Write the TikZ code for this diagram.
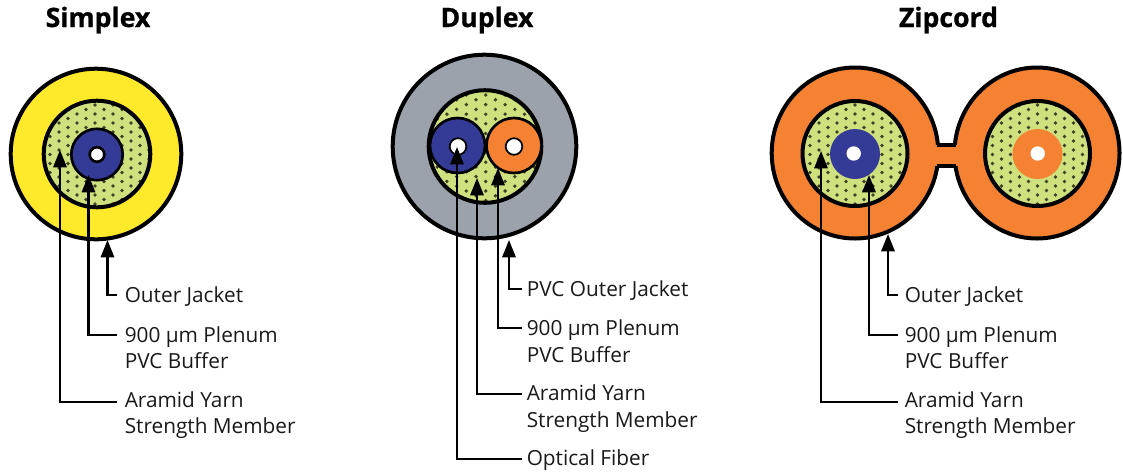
\documentclass[tikz,border=0pt]{standalone}
\usepackage{fontspec}
\setmainfont{Open Sans}
\newfontfamily\ttlfont[FakeBold=0.8]{Open Sans Bold}
\usetikzlibrary{arrows.meta}
\definecolor{cyellow}{HTML}{FFE92B}
\definecolor{cgreen}{HTML}{CFE07E}
\definecolor{cblue}{HTML}{343B97}
\definecolor{corange}{HTML}{F58232}
\definecolor{cgrey}{HTML}{9BA2AB}
\tikzset{
  heavy/.style={draw=black,line width=3pt},
  medium/.style={draw=black,line width=2pt},
  leader/.style={draw=black,line width=1.6pt,line join=miter,{Triangle[width=10pt,length=13pt]}-},
  lab/.style={anchor=west,align=left,inner sep=0pt,font=\fontsize{15.6}{19.8}\selectfont,text=black!90},
  ttl/.style={anchor=base,inner sep=0pt,font=\fontsize{20}{24}\selectfont\ttlfont},
}
\newcommand{\yarnfill}[7]{%
  \begin{scope}
    \fill[cgreen] (#1,#2) circle[radius=#3];
    \clip (#1,#2) circle[radius=#3];
    \foreach \r in {-16,...,16}{
      \pgfmathsetmacro{\sh}{mod(abs(\r),2)*#6/2}
      \foreach \c in {-5,...,5}{
        \fill[cgreen!30!black] ({#4+\c*#6+\sh},{#5+(\r)*#7}) circle[radius=1.9];
      }
    }
  \end{scope}
  \draw[heavy] (#1,#2) circle[radius=#3];
}
\begin{document}
\begin{tikzpicture}[x=0.75pt,y=-0.75pt]
\useasboundingbox (0,0) rectangle (1123,472);
% titles
\node[ttl] (t1) at (98,27) {Simplex};
\node[ttl] (t2) at (487,27) {Duplex};
\node[ttl] (t3) at (948.5,27) {Zipcord};
% Simplex
\draw[heavy,fill=cyellow] (96,154) circle[radius=85.3];
\yarnfill{97}{154}{53.3}{95}{150}{18}{4.5}
\draw[medium,fill=cblue] (97,154.5) circle[radius=25.7];
\draw[medium,fill=white] (97,154.5) circle[radius=7.3];
% Duplex
\draw[heavy,fill=cgrey] (484.5,146.5) circle[radius=91.8];
\yarnfill{485}{146.5}{56.3}{485.7}{143}{19.4}{4.8}
\draw[medium,fill=cblue] (457.5,145.5) circle[radius=27.5];
\draw[medium,fill=corange] (514,145.5) circle[radius=27.5];
\draw[line width=1.3pt,fill=white] (458,146.5) circle[radius=8.3];
\draw[line width=1.3pt,fill=white] (514,146.5) circle[radius=8.3];
% Zipcord
\draw[heavy,fill=corange] (855,153) ellipse[x radius=83.3,y radius=85.5];
\draw[heavy,fill=corange] (1037,153) ellipse[x radius=82.5,y radius=85.5];
\fill[corange] (930,145) rectangle (963,166);
\draw[heavy] (936.5,144.5) -- (955.5,144.5);
\draw[heavy] (936.5,166) -- (955.5,166);
\yarnfill{855}{153.5}{52.5}{855}{150}{18}{4.5}
\yarnfill{1037.5}{153.5}{52.5}{1037.5}{150}{18}{4.5}
\fill[cblue] (855,154) circle[radius=25];
\fill[white] (853.7,153.5) circle[radius=7.2];
\fill[corange] (1037.5,154) circle[radius=25];
\fill[white] (1037.7,153.5) circle[radius=7.2];
% Simplex labels
\node[lab] (a1) at (124.5,297) {Outer Jacket};
\node[lab] (a2) at (124.5,347.5) {900 µm Plenum\\PVC Buffer};
\node[lab] (a3) at (124.5,415) {Aramid Yarn\\Strength Member};
\coordinate (a1e) at (117,295);
\coordinate (a2e) at (117,335);
\coordinate (a3e) at (117,402);
\coordinate (a1t) at (107.5,240);
\coordinate (a2t) at (88.5,175);
\coordinate (a3t) at (60,150);
\draw[leader] (a1t) |- (a1e);
\draw[leader] (a2t) |- (a2e);
\draw[leader] (a3t) |- (a3e);
% Duplex labels
\node[lab] (b1) at (526.5,291) {PVC Outer Jacket};
\node[lab] (b2) at (526.5,341) {900 µm Plenum\\PVC Buffer};
\node[lab] (b3) at (526.5,408.5) {Aramid Yarn\\Strength Member};
\node[lab] (b4) at (526.5,460) {Optical Fiber};
\coordinate (b1e) at (522,289);
\coordinate (b2e) at (522,328);
\coordinate (b3e) at (522,394);
\coordinate (b4e) at (522,459);
\coordinate (b1t) at (509,240);
\coordinate (b2t) at (498,168);
\coordinate (b3t) at (477,178);
\coordinate (b4t) at (457,147);
\draw[leader] (b1t) |- (b1e);
\draw[leader] (b2t) |- (b2e);
\draw[leader] (b3t) |- (b3e);
\draw[leader] (b4t) |- (b4e);
% Zipcord labels
\node[lab] (c1) at (904.5,297) {Outer Jacket};
\node[lab] (c2) at (904.5,347.5) {900 µm Plenum\\PVC Buffer};
\node[lab] (c3) at (904.5,415) {Aramid Yarn\\Strength Member};
\coordinate (c1e) at (898,295);
\coordinate (c2e) at (898,335);
\coordinate (c3e) at (898,402);
\coordinate (c1t) at (888,234);
\coordinate (c2t) at (869,175);
\coordinate (c3t) at (821,151);
\draw[leader] (c1t) |- (c1e);
\draw[leader] (c2t) |- (c2e);
\draw[leader] (c3t) |- (c3e);
\end{tikzpicture}
\end{document}
